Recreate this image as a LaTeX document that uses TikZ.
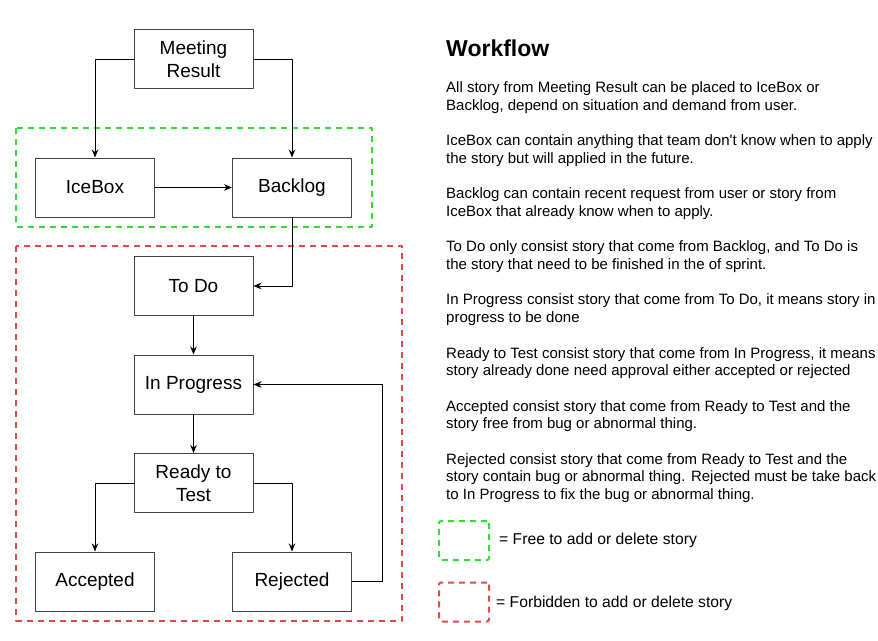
\documentclass[tikz,border=0pt]{standalone}
\usepackage{fontspec}
\setmainfont{Liberation Sans}
\usetikzlibrary{arrows.meta,positioning}
\definecolor{freegreen}{HTML}{33DD33}
\definecolor{lockred}{HTML}{E24B4B}
\definecolor{boxgray}{HTML}{444444}

\begin{document}
\begin{tikzpicture}[x=1pt, y=-1pt, line join=round, >={Stealth[length=8pt,width=6.5pt]},
    stage/.style={draw=boxgray, line width=1pt, minimum width=119pt, minimum height=59pt, align=center, inner sep=0pt, font=\fontsize{19}{23}\selectfont},
    flow/.style={->, line width=0.9pt},
    zone/.style={line width=2pt, dash pattern=on 6pt off 5pt},
    key/.style={zone, rounded corners=2pt, minimum width=50pt, minimum height=39pt, inner sep=0pt}]
    \useasboundingbox (0,0) rectangle (878,640);
    % zones
    \draw[zone, freegreen] (16,128) rectangle (372,226.5);
    \draw[zone, lockred] (16,246) rectangle (402,620.5);
    % stages
    \node[stage] (meet) at (193.5,59) {Meeting\\Result};
    \node[stage] (ice) at (95,187.5) {IceBox};
    \node[stage] (back) at (292,187.5) {Backlog};
    \node[stage] (todo) at (193.5,286) {To Do};
    \node[stage] (prog) at (193.5,384.5) {In Progress};
    \node[stage] (ready) at (193.5,483) {Ready to\\Test};
    \node[stage] (acc) at (95,581.5) {Accepted};
    \node[stage] (rej) at (292,581.5) {Rejected};
    \coordinate (loop) at (382,581.5);
    % flow
    \draw[flow] (meet.west) -| (ice.north);
    \draw[flow] (meet.east) -| (back.north);
    \draw[flow] (ice) -- (back);
    \draw[flow] (back.south) |- (todo.east);
    \draw[flow] (todo) -- (prog);
    \draw[flow] (prog) -- (ready);
    \draw[flow] (ready.west) -| (acc.north);
    \draw[flow] (ready.east) -| (rej.north);
    \draw[flow] (rej.east) -- (loop) |- (prog.east);
    % description
    \node[anchor=base west, inner sep=0pt, font=\bfseries\fontsize{23}{27}\selectfont] (title) at (446,56) {Workflow};
    \node[anchor=north west, inner sep=0pt, align=left, font=\fontsize{15}{17.7}\selectfont] (notes) at (446,81.5) {%
        All story from Meeting Result can be placed to IceBox or\\
        Backlog, depend on situation and demand from user.\\[17.7pt]
        IceBox can contain anything that team don\textquotesingle t know when to apply\\
        the story but will applied in the future.\\[17.7pt]
        Backlog can contain recent request from user or story from\\
        IceBox that already know when to apply.\\[17.7pt]
        To Do only consist story that come from Backlog, and To Do is\\
        the story that need to be finished in the of sprint.\\[17.7pt]
        In Progress consist story that come from To Do, it means story in\\
        progress to be done\\[17.7pt]
        Ready to Test consist story that come from In Progress, it means\\
        story already done need approval either accepted or rejected\\[17.7pt]
        Accepted consist story that come from Ready to Test and the\\
        story free from bug or abnormal thing.\\[17.7pt]
        Rejected consist story that come from Ready to Test and the\\
        story contain bug or abnormal thing. Rejected must be take back\\
        to In Progress to fix the bug or abnormal thing.};
    % legend
    \node[key, draw=freegreen] (freekey) at (464,540.5) {};
    \node[right=9pt of freekey, inner sep=0pt, font=\fontsize{15.7}{18}\selectfont] (freetext) {= Free to add or delete story};
    \node[key, draw=lockred] (lockkey) at (464,602) {};
    \node[right=6pt of lockkey, inner sep=0pt, font=\fontsize{15.7}{18}\selectfont, yshift=-1pt] (locktext) {= Forbidden to add or delete story};
\end{tikzpicture}
\end{document}
